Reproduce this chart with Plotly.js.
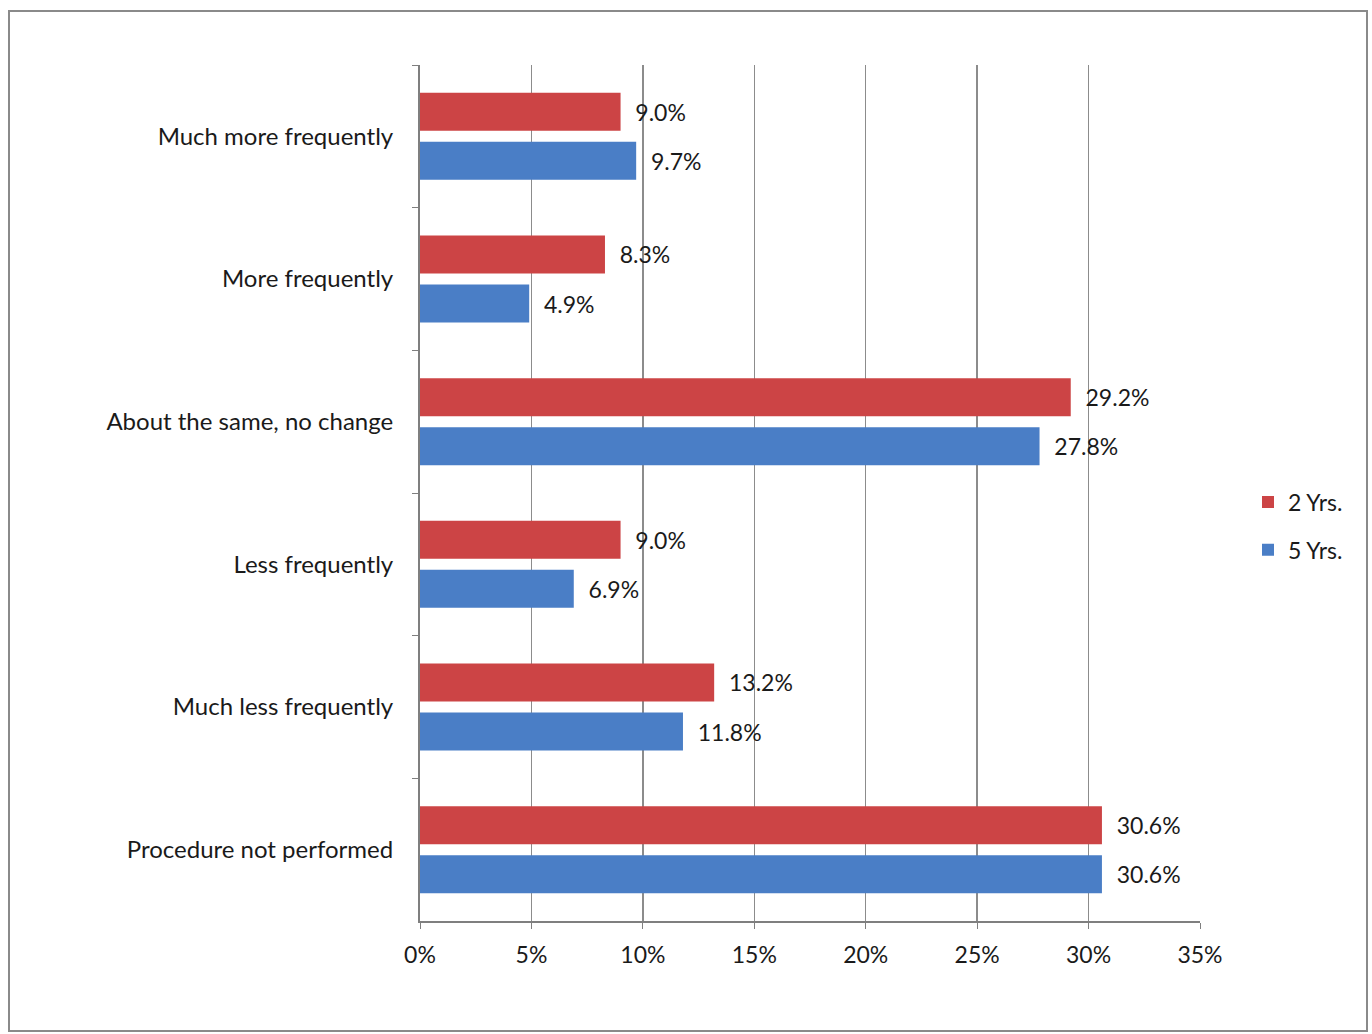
<!DOCTYPE html>
<html>
<head>
<meta charset="utf-8">
<script src="https://cdn.plot.ly/plotly-3.0.1.min.js"></script>
<style>html,body{margin:0;padding:0;background:#fff;}#chart{width:1372px;height:1034px;}</style>
</head>
<body>
<div id="chart"></div>
<script>
const categories = ["Much more frequently", "More frequently", "About the same, no change", "Less frequently", "Much less frequently", "Procedure not performed"];
const seriesNames = ["2 Yrs.", "5 Yrs."];
const values2Yrs = [9.0, 8.3, 29.2, 9.0, 13.2, 30.6];
const values5Yrs = [9.7, 4.9, 27.8, 6.9, 11.8, 30.6];
const xTickVals = [0, 5, 10, 15, 20, 25, 30, 35];
const xTickText = ["0%", "5%", "10%", "15%", "20%", "25%", "30%", "35%"];

const FONT = "Lato, 'Open Sans', sans-serif";
const pad = "\u00a0\u00a0";

function barTrace(name, vals, color, group) {
  return {
    type: "bar", orientation: "h", name: name, legendgroup: group,
    x: vals, y: categories,
    marker: {color: color},
    text: vals.map(v => pad + v.toFixed(1) + "%"),
    textposition: "outside",
    textfont: {family: FONT, size: 23, color: "#1a1a1a"},
    cliponaxis: false,
    hoverinfo: "x+y"
  };
}

const data = [
  barTrace(seriesNames[0], values2Yrs, "#cc4445", "g2"),
  barTrace(seriesNames[1], values5Yrs, "#4a7ec6", "g5")
];

const W = 780, H = 856, L = 420, T = 65;
function px(x) { return (x - L) / W; }
function py(y) { return (T + H - y) / H; }

const layout = {
  width: 1372, height: 1034,
  margin: {l: 420, r: 172, t: 65, b: 113, pad: 0},
  paper_bgcolor: "#fff", plot_bgcolor: "#fff",
  font: {family: FONT, size: 23, color: "#1a1a1a"},
  barmode: "group", bargap: 0.313, bargroupgap: 0.224,
  showlegend: true,
  legend: {x: px(1248), y: py(526), xanchor: "left", yanchor: "middle",
           font: {family: FONT, size: 23, color: "#1a1a1a"}, itemwidth: 30, tracegroupgap: 15,
           bgcolor: "rgba(0,0,0,0)"},
  xaxis: {
    range: [0, 35], tickvals: xTickVals, ticktext: xTickText,
    showgrid: true, gridcolor: "#8c8c8c", gridwidth: 1.3,
    showline: true, linecolor: "#7f7f7f", linewidth: 2,
    ticks: "outside", ticklen: 6, tickcolor: "#7f7f7f",
    zeroline: false, ticklabelstandoff: 6,
    tickfont: {family: FONT, size: 23, color: "#1a1a1a"}, fixedrange: true
  },
  yaxis: {
    type: "category", autorange: "reversed",
    showline: true, linecolor: "#7f7f7f", linewidth: 2,
    ticks: "outside", ticklen: 6, tickcolor: "#7f7f7f", tickson: "boundaries",
    showgrid: false, ticklabelstandoff: 20,
    tickfont: {family: FONT, size: 24, color: "#1a1a1a"}, fixedrange: true
  },
  shapes: [{
    type: "rect", xref: "paper", yref: "paper",
    x0: px(9), x1: px(1367), y0: py(1031), y1: py(11),
    line: {color: "#8a8a8a", width: 2}, fillcolor: "rgba(0,0,0,0)", layer: "below"
  }]
};

Plotly.newPlot("chart", data, layout, {displayModeBar: false, staticPlot: true});
</script>
</body>
</html>
